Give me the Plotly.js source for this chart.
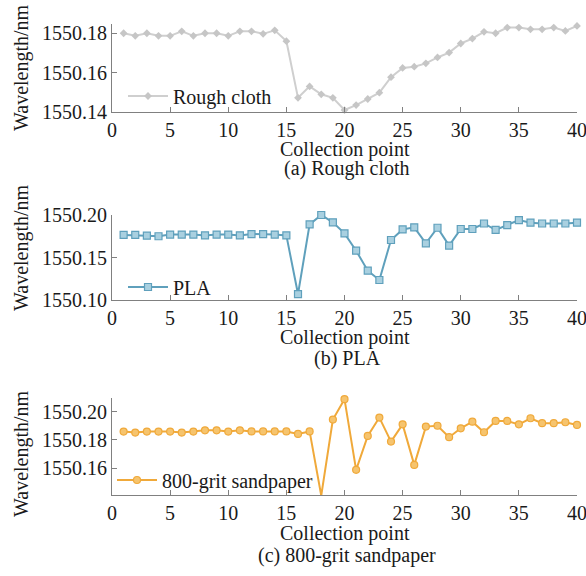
<!DOCTYPE html>
<html>
<head>
<meta charset="utf-8">
<script src="https://cdn.plot.ly/plotly-3.0.1.min.js"></script>
<style>html,body{margin:0;padding:0;background:#fff;}#chart{width:586px;height:576px;}</style>
</head>
<body>
<div id="chart"></div>
<script>
// Collection points
var points = [1,2,3,4,5,6,7,8,9,10,11,12,13,14,15,16,17,18,19,20,21,22,23,24,25,26,27,28,29,30,31,32,33,34,35,36,37,38,39,40];
var xTickVals = [0,5,10,15,20,25,30,35,40];

// (a) Rough cloth wavelength (nm)
var roughCloth = [1550.1800,1550.1787,1550.1800,1550.1787,1550.1787,1550.1810,1550.1787,1550.1800,1550.1800,1550.1787,
                  1550.1810,1550.1810,1550.1797,1550.1815,1550.1760,1550.1472,1550.1530,1550.1490,1550.1472,1550.1410,
                  1550.1435,1550.1466,1550.1498,1550.1577,1550.1624,1550.1630,1550.1647,1550.1677,1550.1702,1550.1748,
                  1550.1773,1550.1807,1550.1800,1550.1829,1550.1829,1550.1820,1550.1820,1550.1829,1550.1812,1550.1837];
// (b) PLA
var pla = [1550.1765,1550.1765,1550.1757,1550.1750,1550.1770,1550.1770,1550.1770,1550.1760,1550.1770,1550.1770,
           1550.1760,1550.1776,1550.1776,1550.1770,1550.1760,1550.1070,1550.1890,1550.2000,1550.1914,1550.1784,
           1550.1580,1550.1345,1550.1235,1550.1706,1550.1830,1550.1855,1550.1667,1550.1850,1550.1640,1550.1835,
           1550.1835,1550.1900,1550.1824,1550.1880,1550.1940,1550.1910,1550.1900,1550.1900,1550.1900,1550.1910];
// (c) 800-grit sandpaper
var sandpaper = [1550.1859,1550.1852,1550.1859,1550.1859,1550.1859,1550.1852,1550.1859,1550.1868,1550.1868,1550.1859,
                 1550.1868,1550.1860,1550.1860,1550.1860,1550.1860,1550.1842,1550.1860,1550.1406,1550.1944,1550.2088,
                 1550.1588,1550.1828,1550.1958,1550.1788,1550.1910,1550.1623,1550.1894,1550.1900,1550.1819,1550.1882,
                 1550.1929,1550.1854,1550.1934,1550.1934,1550.1910,1550.1953,1550.1918,1550.1918,1550.1925,1550.1906];

var yTicks1 = [1550.14,1550.16,1550.18];
var yTicks2 = [1550.10,1550.15,1550.20];
var yTicks3 = [1550.16,1550.18,1550.20];

var seriesNames = ['Rough cloth','PLA','800-grit sandpaper'];
var panelTitles = ['(a) Rough cloth','(b) PLA','(c) 800-grit sandpaper'];

var FONT = 'Liberation Serif';
var TXT = '#1a1a1a';
var AX = '#808080';

var traces = [
  {x: points, y: roughCloth, name: seriesNames[0], type: 'scatter', mode: 'lines+markers',
   xaxis: 'x', yaxis: 'y', legend: 'legend', cliponaxis: false,
   line: {color: '#cfcfcf', width: 2},
   marker: {symbol: 'diamond', size: 6, color: '#c6c6c6'}},
  {x: points, y: pla, name: seriesNames[1], type: 'scatter', mode: 'lines+markers',
   xaxis: 'x2', yaxis: 'y2', legend: 'legend2', cliponaxis: false,
   line: {color: '#5fa0bc', width: 2},
   marker: {symbol: 'square', size: 7, color: '#a9d0e0', line: {color: '#5fa0bc', width: 1.2}}},
  {x: points, y: sandpaper, name: seriesNames[2], type: 'scatter', mode: 'lines+markers',
   xaxis: 'x3', yaxis: 'y3', legend: 'legend3', cliponaxis: false,
   line: {color: '#f0a93a', width: 2},
   marker: {symbol: 'circle', size: 7, color: '#f6c46e', line: {color: '#f0a93a', width: 1.2}}}
];

function py(p){ return 1 - p/576; }
function px(p){ return p/586; }

function xAxis(anchor){
  return {domain: [px(112), px(577)], range: [0, 40], anchor: anchor,
    tickvals: xTickVals, ticks: 'inside', ticklen: 5, tickcolor: AX,
    showline: true, linecolor: AX, linewidth: 1, showgrid: false, zeroline: false,
    ticklabeloverflow: 'allow',
    tickfont: {family: FONT, size: 20, color: TXT}, ticklabelstandoff: 0};
}
function yAxis(anchor, dom, rng, tv){
  return {domain: dom, range: rng, anchor: anchor, tickvals: tv, tickformat: '.2f',
    ticks: 'inside', ticklen: 5, tickcolor: AX,
    showline: true, linecolor: AX, linewidth: 1, showgrid: false, zeroline: false,
    ticklabeloverflow: 'allow',
    tickfont: {family: FONT, size: 20, color: TXT}};
}

function ann(text, x, y, angle){
  return {text: text, xref: 'paper', yref: 'paper', x: px(x), y: py(y),
    xanchor: 'center', yanchor: 'middle', showarrow: false, textangle: angle || 0,
    font: {family: FONT, size: 20, color: TXT}};
}

function legendAt(x, y){
  return {x: px(x), y: py(y), xanchor: 'left', yanchor: 'middle', xref: 'paper', yref: 'paper',
    bgcolor: 'rgba(0,0,0,0)', borderwidth: 0, itemwidth: 40,
    font: {family: FONT, size: 20, color: TXT}};
}

var layout = {
  width: 586, height: 576,
  margin: {l: 0, r: 0, t: 0, b: 0},
  font: {family: FONT, size: 20, color: TXT},
  paper_bgcolor: '#ffffff', plot_bgcolor: '#ffffff',
  showlegend: true,
  xaxis: xAxis('y'),
  yaxis: yAxis('x', [py(112), py(24)], [1550.14, 1550.1847], yTicks1),
  xaxis2: xAxis('y2'),
  yaxis2: yAxis('x2', [py(300), py(215)], [1550.10, 1550.20], yTicks2),
  xaxis3: xAxis('y3'),
  yaxis3: yAxis('x3', [py(495), py(397.5)], [1550.141, 1550.21], yTicks3),
  legend: legendAt(123, 96),
  legend2: legendAt(123, 287),
  legend3: legendAt(112, 480),
  annotations: [
    ann('Wavelength/nm', 21, 68, -90),
    ann('Wavelength/nm', 21, 248, -90),
    ann('Wavelength/nm', 21, 454, -90),
    ann('Collection point', 345, 149),
    ann('Collection point', 345, 337),
    ann('Collection point', 345, 533),
    ann(panelTitles[0], 347, 168),
    ann(panelTitles[1], 347, 358),
    ann(panelTitles[2], 347, 555)
  ]
};

Plotly.newPlot('chart', traces, layout, {displayModeBar: false, staticPlot: true});
</script>
</body>
</html>
